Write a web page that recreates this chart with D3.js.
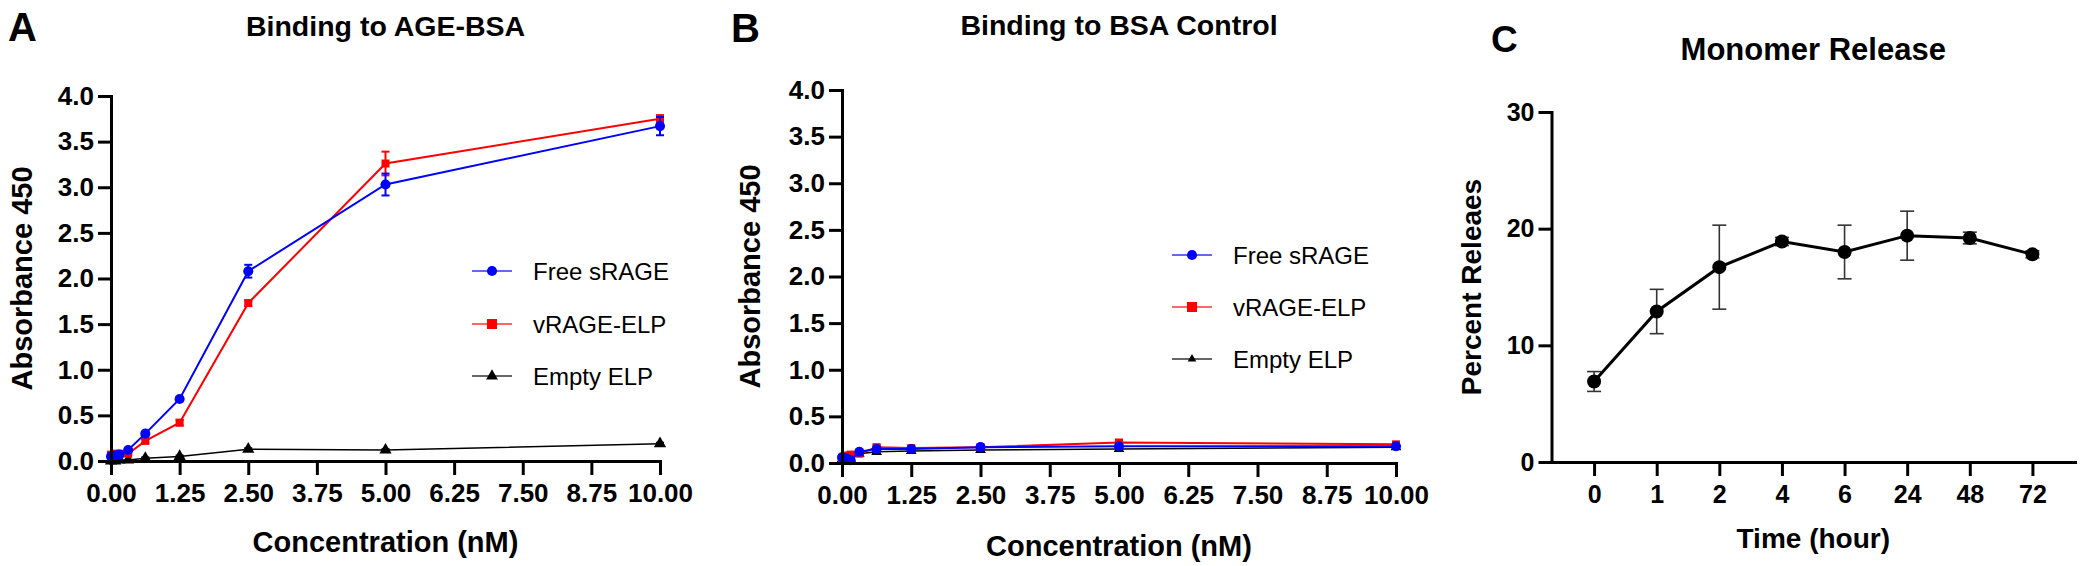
<!DOCTYPE html>
<html>
<head>
<meta charset="utf-8">
<script src="https://cdn.jsdelivr.net/npm/d3@7"></script>
<style>
    body { margin: 0; background: #fff; }
    text { font-family: "Liberation Sans", Arial, sans-serif; }
</style>
</head>
<body>
<div id="chart"></div>
<script>
// ---- data ----
const conc = [0, 0.078, 0.156, 0.3125, 0.625, 1.25, 2.5, 5, 10];
const concTicks = [0, 1.25, 2.5, 3.75, 5, 6.25, 7.5, 8.75, 10];
const absTicks = [0, 0.5, 1, 1.5, 2, 2.5, 3, 3.5, 4];
const seriesNames = ["Free sRAGE", "vRAGE-ELP", "Empty ELP"];

// A: binding to AGE-BSA
const ageFree = [0.05, 0.06, 0.07, 0.12, 0.30, 0.68, 2.08, 3.03, 3.67];
const ageFreeErr = [0.01, 0.01, 0.01, 0.01, 0.02, 0.02, 0.07, 0.12, 0.10];
const ageVrage = [0.07, 0.08, 0.08, 0.08, 0.22, 0.42, 1.73, 3.26, 3.75];
const ageVrageErr = [0.01, 0.01, 0.01, 0.01, 0.02, 0.03, 0.03, 0.13, 0.04];
const ageEmpty = [0.0, 0.0, 0.01, 0.01, 0.03, 0.05, 0.13, 0.12, 0.19];
const ageEmptyErr = [0, 0, 0, 0, 0.01, 0.01, 0.01, 0.01, 0.01];

// B: binding to BSA control
const bsaFree = [0.06, 0.05, 0.03, 0.12, 0.15, 0.15, 0.17, 0.18, 0.18];
const bsaFreeErr = [0.02, 0.02, 0.02, 0.02, 0.02, 0.02, 0.02, 0.02, 0.02];
const bsaVrage = [0.05, 0.08, 0.09, 0.10, 0.17, 0.16, 0.17, 0.22, 0.20];
const bsaVrageErr = [0.02, 0.02, 0.02, 0.02, 0.02, 0.02, 0.02, 0.02, 0.02];
const bsaEmpty = [0.04, 0.04, 0.05, 0.10, 0.12, 0.13, 0.14, 0.15, 0.17];
const bsaEmptyErr = [0.01, 0.01, 0.01, 0.02, 0.02, 0.02, 0.02, 0.02, 0.02];

// C: monomer release
const timeLabels = ["0", "1", "2", "4", "6", "24", "48", "72"];
const release = [6.9, 12.9, 16.7, 18.9, 18.0, 19.4, 19.2, 17.8];
const releaseErr = [0.85, 1.9, 3.6, 0.35, 2.3, 2.1, 0.5, 0.3];
const releaseTicks = [0, 10, 20, 30];

const svg = d3.select("#chart").append("svg")
    .attr("width", 2085)
    .attr("height", 566);

function styleAxis(g) {
    g.select(".domain").attr("stroke", "#000").attr("stroke-width", 3).attr("stroke-linecap", "square");
    g.selectAll(".tick line").attr("stroke", "#000").attr("stroke-width", 3);
    g.selectAll(".tick text")
        .attr("fill", "#000")
        .style("font-size", "26px")
        .style("font-weight", "bold");
}

function bigText(x, y, str, size, opts) {
    opts = opts || {};
    return svg.append("text")
        .attr("x", x).attr("y", y)
        .attr("text-anchor", opts.anchor || "middle")
        .style("font-size", size + "px")
        .style("font-weight", opts.weight || "bold")
        .text(str);
}

function yTitle(x, cy, str, size) {
    svg.append("text")
        .attr("transform", "translate(" + x + "," + cy + ") rotate(-90)")
        .attr("text-anchor", "middle")
        .style("font-size", size + "px")
        .style("font-weight", "bold")
        .text(str);
}

function drawConcPanel(cfg) {
    let x = d3.scaleLinear().domain([0, 10]).range(cfg.xRange);
    let y = d3.scaleLinear().domain([0, 4]).range(cfg.yRange);

    let series = [
        { name: seriesNames[2], vals: cfg.empty, err: cfg.emptyErr, color: "#000", shape: d3.symbolTriangle, size: cfg.triSize, lw: 1.5 },
        { name: seriesNames[1], vals: cfg.vrage, err: cfg.vrageErr, color: "#ff0000", shape: d3.symbolSquare, size: 64, lw: 2 },
        { name: seriesNames[0], vals: cfg.free, err: cfg.freeErr, color: "#0000ff", shape: d3.symbolCircle, size: 80, lw: 2 }
    ];

    let line = d3.line()
        .x((d, i) => x(conc[i]))
        .y(d => y(d));

    series.forEach(s => {
        let g = svg.append("g");
        // error bars
        conc.forEach((c, i) => {
            if (!s.err[i]) return;
            let cx = x(c);
            let y1 = y(s.vals[i] - s.err[i]), y2 = y(s.vals[i] + s.err[i]);
            g.append("line").attr("x1", cx).attr("x2", cx).attr("y1", y1).attr("y2", y2)
                .attr("stroke", s.color).attr("stroke-width", 2);
            [y1, y2].forEach(yy => {
                g.append("line").attr("x1", cx - 4).attr("x2", cx + 4).attr("y1", yy).attr("y2", yy)
                    .attr("stroke", s.color).attr("stroke-width", 2);
            });
        });
        g.append("path")
            .attr("d", line(s.vals))
            .attr("fill", "none")
            .attr("stroke", s.color)
            .attr("stroke-width", s.lw);
        g.selectAll(".pt")
            .data(s.vals)
            .enter()
            .append("path")
            .attr("class", "pt")
            .attr("transform", (d, i) => "translate(" + x(conc[i]) + "," + y(d) + ")")
            .attr("d", d3.symbol().type(s.shape).size(s.size))
            .attr("fill", s.color);
    });

    // axes
    svg.append("g")
        .attr("transform", "translate(" + cfg.xRange[0] + ",0)")
        .call(d3.axisLeft(y).tickValues(absTicks).tickFormat(d3.format(".1f")).tickSize(13).tickPadding(4).tickSizeOuter(0))
        .call(styleAxis);
    svg.append("g")
        .attr("transform", "translate(0," + cfg.yRange[0] + ")")
        .call(d3.axisBottom(x).tickValues(concTicks).tickFormat(d3.format(".2f")).tickSize(14).tickPadding(9).tickSizeOuter(0))
        .call(styleAxis);

    // legend
    let legendOrder = [series[2], series[1], series[0]];
    legendOrder.forEach((s, i) => {
        let ly = cfg.legendY[i];
        svg.append("line")
            .attr("x1", cfg.legendX - 20).attr("x2", cfg.legendX + 20)
            .attr("y1", ly).attr("y2", ly)
            .attr("stroke", s.color).attr("stroke-width", 2).attr("stroke-opacity", 0.6);
        svg.append("path")
            .attr("transform", "translate(" + cfg.legendX + "," + ly + ")")
            .attr("d", d3.symbol().type(s.shape).size(cfg.legendSizes[i]))
            .attr("fill", s.color);
        svg.append("text")
            .attr("x", cfg.legendX + 41).attr("y", ly)
            .attr("dy", "0.36em")
            .style("font-size", "24px")
            .text(s.name);
    });

    let midX = (cfg.xRange[0] + cfg.xRange[1]) / 2;
    bigText(midX, cfg.titleY, cfg.title, 28.5);
    bigText(cfg.letterX, cfg.letterY, cfg.letter, 40, { anchor: "start" });
    bigText(midX, cfg.xTitleY, "Concentration (nM)", 29);
    yTitle(cfg.yTitleX, (cfg.yRange[0] + cfg.yRange[1]) / 2, "Absorbance 450", 29);
}

drawConcPanel({
    xRange: [111, 660], yRange: [461, 96],
    free: ageFree, freeErr: ageFreeErr,
    vrage: ageVrage, vrageErr: ageVrageErr,
    empty: ageEmpty, emptyErr: ageEmptyErr,
    triSize: 65,
    legendX: 492, legendY: [271, 324, 376], legendSizes: [80, 100, 60],
    title: "Binding to AGE-BSA", titleY: 36,
    letter: "A", letterX: 8, letterY: 41,
    xTitleY: 552, yTitleX: 32
});

drawConcPanel({
    xRange: [842, 1396], yRange: [463, 90],
    free: bsaFree, freeErr: bsaFreeErr,
    vrage: bsaVrage, vrageErr: bsaVrageErr,
    empty: bsaEmpty, emptyErr: bsaEmptyErr,
    triSize: 50,
    legendX: 1192, legendY: [255, 307, 359], legendSizes: [80, 100, 32],
    title: "Binding to BSA Control", titleY: 35,
    letter: "B", letterX: 731, letterY: 42,
    xTitleY: 556, yTitleX: 760
});

// ---- panel C ----
(function () {
    let xR = [1551.5, 2075], yR = [462, 112];
    let x = d3.scalePoint().domain(timeLabels).range(xR).padding(0.68);
    let y = d3.scaleLinear().domain([0, 30]).range(yR);

    let g = svg.append("g");
    timeLabels.forEach((t, i) => {
        let cx = x(t);
        let y1 = y(release[i] - releaseErr[i]), y2 = y(release[i] + releaseErr[i]);
        g.append("line").attr("x1", cx).attr("x2", cx).attr("y1", y1).attr("y2", y2)
            .attr("stroke", "#333").attr("stroke-width", 1.6);
        [y1, y2].forEach(yy => {
            g.append("line").attr("x1", cx - 7).attr("x2", cx + 7).attr("y1", yy).attr("y2", yy)
                .attr("stroke", "#333").attr("stroke-width", 1.6);
        });
    });

    g.append("path")
        .attr("d", d3.line().x((d, i) => x(timeLabels[i])).y(d => y(d))(release))
        .attr("fill", "none")
        .attr("stroke", "#000")
        .attr("stroke-width", 3);

    g.selectAll("circle")
        .data(release)
        .enter()
        .append("circle")
        .attr("cx", (d, i) => x(timeLabels[i]))
        .attr("cy", d => y(d))
        .attr("r", 7)
        .attr("fill", "#000");

    svg.append("g")
        .attr("transform", "translate(" + xR[0] + ",0)")
        .call(d3.axisLeft(y).tickValues(releaseTicks).tickSize(13).tickPadding(4).tickSizeOuter(0))
        .call(styleAxis)
        .selectAll(".tick text").style("font-size", "25px");
    svg.append("g")
        .attr("transform", "translate(0," + yR[0] + ")")
        .call(d3.axisBottom(x).tickSize(14).tickPadding(9).tickSizeOuter(0))
        .call(styleAxis)
        .selectAll(".tick text").style("font-size", "25px");

    let midX = (xR[0] + xR[1]) / 2;
    bigText(midX, 60, "Monomer Release", 31);
    bigText(1491, 52, "C", 37, { anchor: "start" });
    bigText(midX, 548, "Time (hour)", 28);
    yTitle(1481, (yR[0] + yR[1]) / 2, "Percent Releaes", 28);
})();
</script>
</body>
</html>
